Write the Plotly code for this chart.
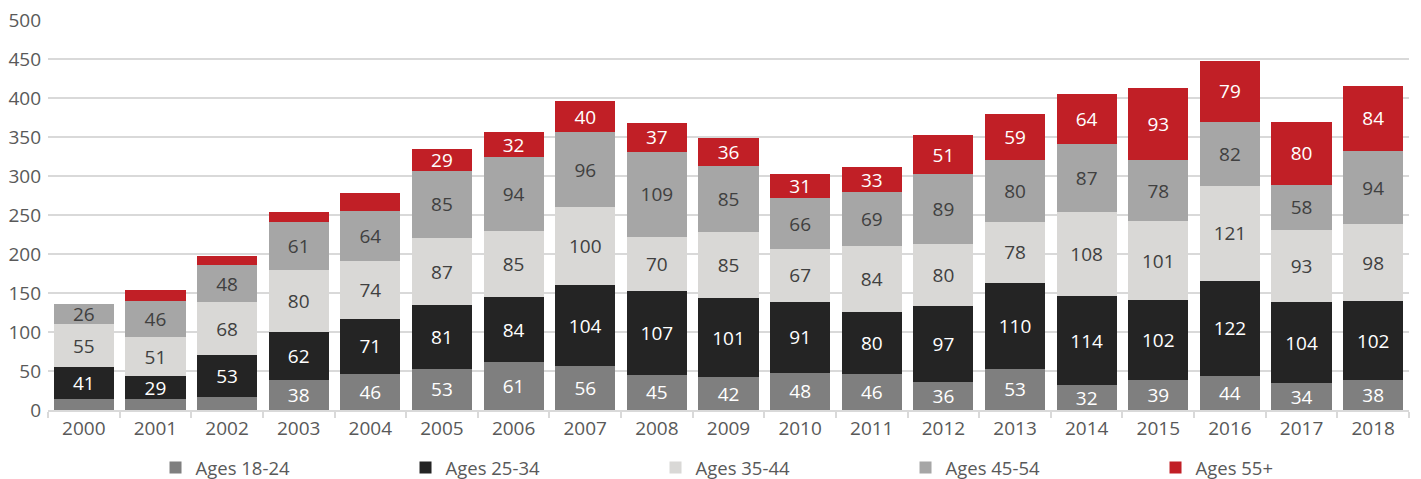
import plotly.graph_objects as go

years = [str(y) for y in range(2000, 2019)]
ages_18_24 = [14, 14, 17, 38, 46, 53, 61, 56, 45, 42, 48, 46, 36, 53, 32, 39, 44, 34, 38]
ages_25_34 = [41, 29, 53, 62, 71, 81, 84, 104, 107, 101, 91, 80, 97, 110, 114, 102, 122, 104, 102]
ages_35_44 = [55, 51, 68, 80, 74, 87, 85, 100, 70, 85, 67, 84, 80, 78, 108, 101, 121, 93, 98]
ages_45_54 = [26, 46, 48, 61, 64, 85, 94, 96, 109, 85, 66, 69, 89, 80, 87, 78, 82, 58, 94]
ages_55_plus = [0, 14, 11, 13, 23, 29, 32, 40, 37, 36, 31, 33, 51, 59, 64, 93, 79, 80, 84]

series = [
    ("Ages 18-24", ages_18_24, "#7f7f7f", "white"),
    ("Ages 25-34", ages_25_34, "#242424", "white"),
    ("Ages 35-44", ages_35_44, "#d9d8d6", "#404040"),
    ("Ages 45-54", ages_45_54, "#a6a6a6", "#404040"),
    ("Ages 55+", ages_55_plus, "#c11f26", "white"),
]

FONT = "Open Sans"

fig = go.Figure()
for name, vals, color, tcolor in series:
    # small segments carry no label
    labels = [str(v) if v >= 25 else "" for v in vals]
    fig.add_trace(go.Bar(
        name=name, x=years, y=vals,
        marker=dict(color=color, line=dict(width=0)),
        text=labels, textposition="inside", insidetextanchor="middle",
        textangle=0,
        textfont=dict(color=tcolor, size=19, family=FONT),
        hoverinfo="skip",
    ))

fig.update_layout(
    barmode="stack",
    bargap=0.16,
    width=1421, height=479,
    margin=dict(l=48, r=12, t=20, b=69, autoexpand=False),
    paper_bgcolor="white", plot_bgcolor="white",
    font=dict(family=FONT, color="#595959", size=19),
    uniformtext=dict(minsize=19, mode="show"),
    legend=dict(
        orientation="h", x=0.079, xanchor="left", y=-0.1, yanchor="top",
        font=dict(size=18.5, color="#595959", family=FONT),
        entrywidth=205, entrywidthmode="pixels",
        traceorder="normal",
        itemwidth=30,
    ),
    xaxis=dict(
        type="category", showgrid=False,
        showline=True, linecolor="#d9d9d9", linewidth=1.5,
        ticks="outside", tickson="boundaries", tickcolor="#d9d9d9",
        ticklen=6, tickwidth=1.5,
        tickfont=dict(size=19, color="#595959"),
    ),
    yaxis=dict(
        range=[0, 500], dtick=50,
        showgrid=True, gridcolor="#d9d9d9", gridwidth=1.5,
        zeroline=False, showline=False, ticks="",
        tickfont=dict(size=19, color="#595959"),
        ticklabelstandoff=6,
    ),
)

fig.write_html("out.html")
